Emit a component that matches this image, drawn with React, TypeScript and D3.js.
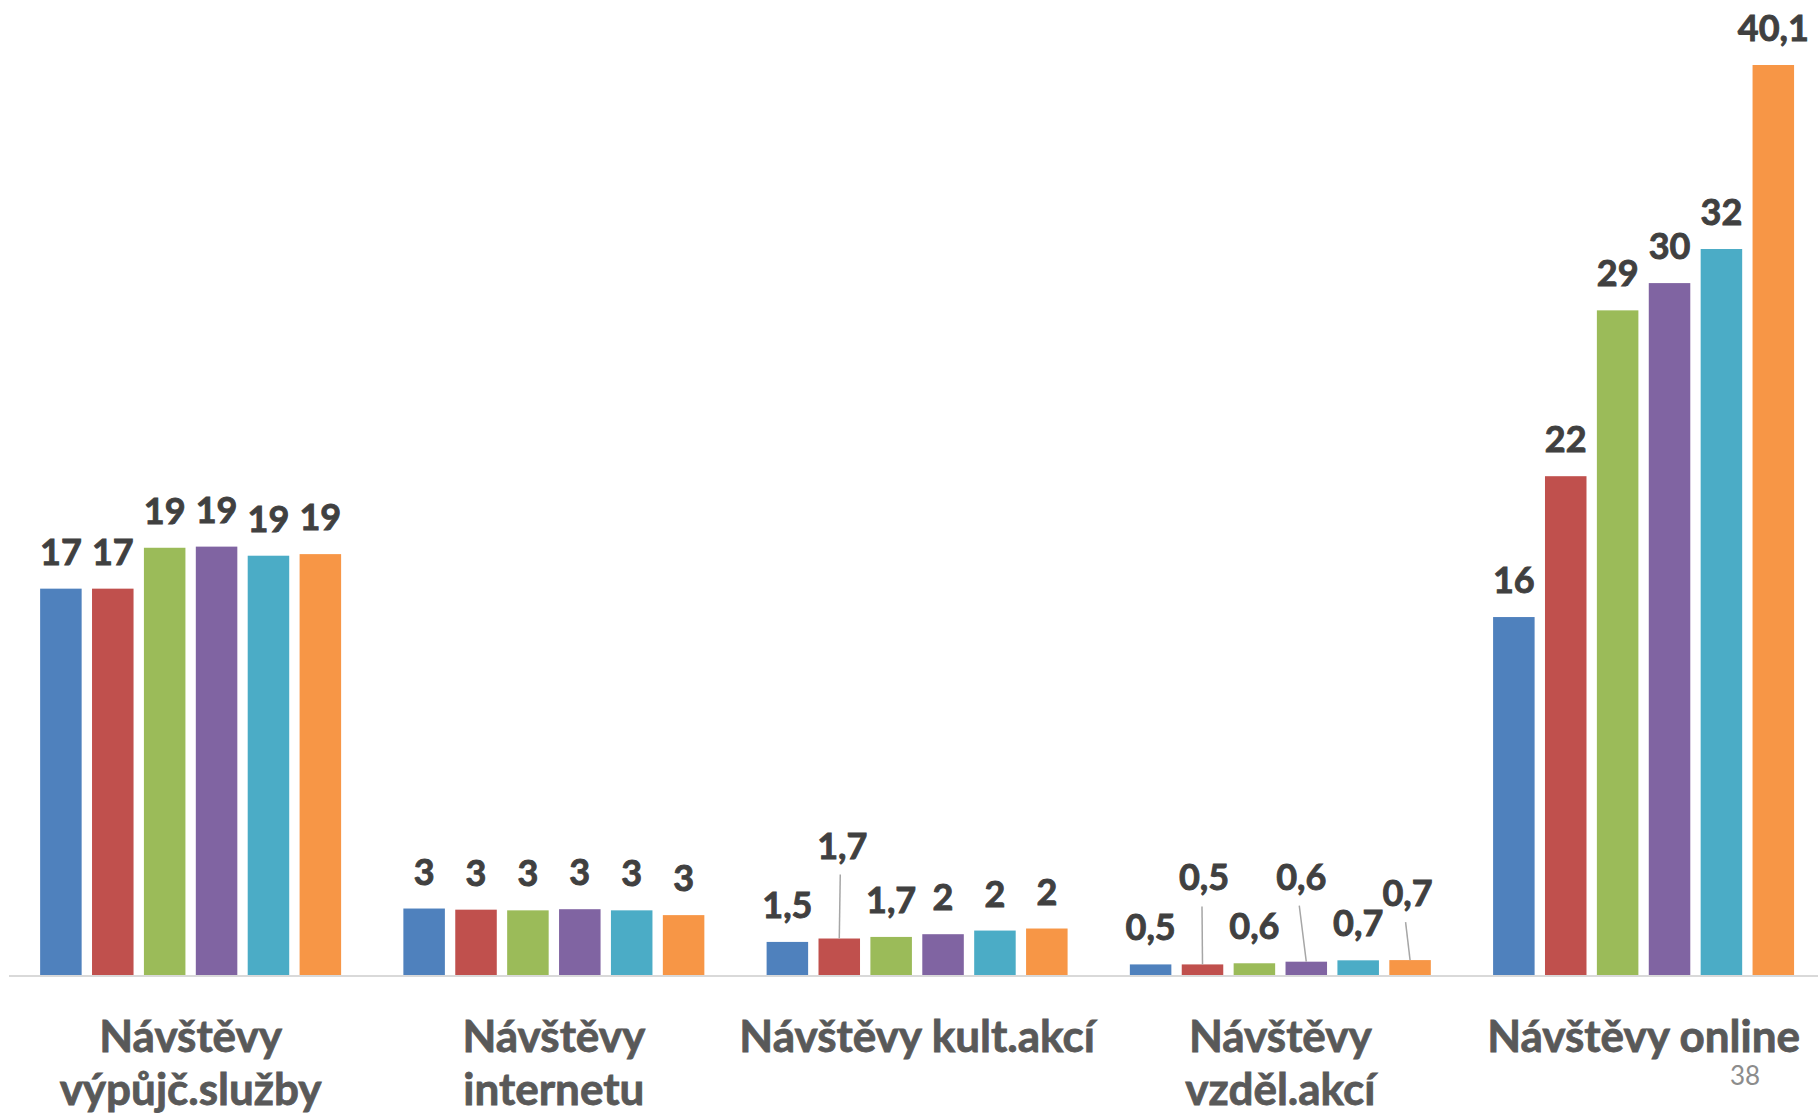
import React from "react";
import * as d3 from "d3";

// Categories (wrapped lines as in the original)
const CATEGORIES: string[][] = [
  ["Návštěvy", "výpůjč.služby"],
  ["Návštěvy", "internetu"],
  ["Návštěvy kult.akcí"],
  ["Návštěvy", "vzděl.akcí"],
  ["Návštěvy online"],
];

// Six series, values per category
const SERIES_1 = [17.05, 2.97, 1.5, 0.51, 15.8];
const SERIES_2 = [17.05, 2.92, 1.65, 0.51, 22.0];
const SERIES_3 = [18.85, 2.89, 1.72, 0.56, 29.3];
const SERIES_4 = [18.9, 2.94, 1.84, 0.63, 30.5];
const SERIES_5 = [18.5, 2.89, 2.0, 0.69, 32.0];
const SERIES_6 = [18.57, 2.68, 2.09, 0.7, 40.1];

// Data labels as displayed
const LABELS_1 = ["17", "3", "1,5", "0,5", "16"];
const LABELS_2 = ["17", "3", "1,7", "0,5", "22"];
const LABELS_3 = ["19", "3", "1,7", "0,6", "29"];
const LABELS_4 = ["19", "3", "2", "0,6", "30"];
const LABELS_5 = ["19", "3", "2", "0,7", "32"];
const LABELS_6 = ["19", "3", "2", "0,7", "40,1"];

const SERIES = [SERIES_1, SERIES_2, SERIES_3, SERIES_4, SERIES_5, SERIES_6];
const LABELS = [LABELS_1, LABELS_2, LABELS_3, LABELS_4, LABELS_5, LABELS_6];

const COLORS = ["#4F81BD", "#C0504D", "#9BBB59", "#8064A2", "#4BACC6", "#F79646"];

// Labels moved away from their bars (with leader lines): [category, series, dx, dy]
const MOVED_LABELS: [number, number, number, number][] = [
  [2, 1, 3, -56],
  [3, 1, 1.5, -50],
  [3, 3, -5, -48],
  [3, 5, -2.5, -30],
];

const W = 1818;
const H = 1119;
const BASE_Y = 976;
const TOP_Y = 65;
const FONT = "Lato, 'Open Sans', sans-serif";

export default function App() {
  const catIdx = CATEGORIES.map((_, i) => i);
  const serIdx = SERIES.map((_, i) => i);

  const x0 = d3
    .scaleBand<number>()
    .domain(catIdx)
    .range([9, 1825.2])
    .paddingInner(0.1714)
    .paddingOuter(0.0857);

  const x1 = d3
    .scaleBand<number>()
    .domain(serIdx)
    .range([0, x0.bandwidth()])
    .paddingInner(0.2)
    .paddingOuter(0);

  const maxV = d3.max(SERIES.flat()) as number;
  const y = d3.scaleLinear().domain([0, maxV]).range([BASE_Y, TOP_Y]);

  const moved = new Map<string, [number, number]>();
  MOVED_LABELS.forEach(([c, s, dx, dy]) => moved.set(`${c}-${s}`, [dx, dy]));

  return (
    <svg
      width={W}
      height={H}
      style={{ position: "absolute", left: 0, top: 0, background: "#fff" }}
    >
      <rect x={0} y={0} width={W} height={H} fill="#ffffff" />
      {catIdx.map((c) => (
        <g key={`g${c}`} transform={`translate(${x0(c)},0)`}>
          {serIdx.map((s) => {
            const v = SERIES[s][c];
            const bx = x1(s) as number;
            return (
              <rect
                key={`b${s}`}
                x={bx}
                y={y(v)}
                width={x1.bandwidth()}
                height={y(0) - y(v)}
                fill={COLORS[s]}
              />
            );
          })}
        </g>
      ))}
      <line x1={9} x2={W} y1={BASE_Y} y2={BASE_Y} stroke="#D9D9D9" strokeWidth={2} />
      {catIdx.map((c) =>
        serIdx.map((s) => {
          const v = SERIES[s][c];
          const cx = (x0(c) as number) + (x1(s) as number) + x1.bandwidth() / 2;
          const off = moved.get(`${c}-${s}`);
          const lx = cx + (off ? off[0] : 0);
          const ly = y(v) - 24 + (off ? off[1] : 0);
          return (
            <g key={`l${c}-${s}`}>
              {off && (
                <line
                  x1={lx - 2}
                  y1={ly + 16}
                  x2={cx}
                  y2={y(v)}
                  stroke="#A6A6A6"
                  strokeWidth={1.5}
                />
              )}
              <text
                x={lx}
                y={ly}
                textAnchor="middle"
                fontFamily={FONT}
                fontWeight={700}
                fontSize={36}
                fill="#404040"
                stroke="#404040"
                strokeWidth={0.9}
              >
                {LABELS[s][c]}
              </text>
            </g>
          );
        })
      )}
      {catIdx.map((c) => {
        const cx = (x0(c) as number) + x0.bandwidth() / 2;
        return (
          <text
            key={`c${c}`}
            textAnchor="middle"
            fontFamily={FONT}
            fontWeight={700}
            fontSize={44}
            fill="#595959"
            stroke="#595959"
            strokeWidth={0.8}
          >
            {CATEGORIES[c].map((line, i) => (
              <tspan key={i} x={cx} y={1052 + i * 53.3}>
                {line}
              </tspan>
            ))}
          </text>
        );
      })}
      <text
        x={1745}
        y={1085}
        textAnchor="middle"
        fontFamily={FONT}
        fontSize={26}
        fill="#8C8C8C"
      >
        38
      </text>
    </svg>
  );
}
